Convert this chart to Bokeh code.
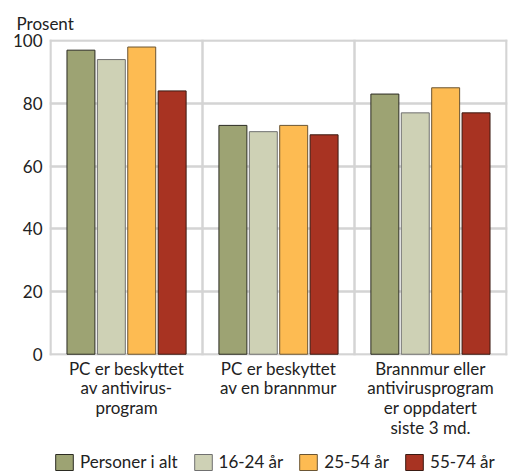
import numpy as np
from bokeh.plotting import figure
from bokeh.layouts import column
from bokeh.models import Range1d, FixedTicker, Legend, LegendItem
from bokeh.embed import file_html
from bokeh.resources import INLINE

categories = ["PC er beskyttet\nav antivirus-\nprogram",
              "PC er beskyttet\nav en brannmur",
              "Brannmur eller\nantivirusprogram\ner oppdatert\nsiste 3 md."]
series_names = ["Personer i alt", "16-24 år", "25-54 år", "55-74 år"]
personer_i_alt = [97, 73, 83]
aar_16_24 = [94, 71, 77]
aar_25_54 = [98, 73, 85]
aar_55_74 = [84, 70, 77]
y_ticks = [0, 20, 40, 60, 80, 100]

series_values = [personer_i_alt, aar_16_24, aar_25_54, aar_55_74]
fills = ["#9da373", "#ced1b5", "#fdbb52", "#a83322"]
lines = ["#2b2b22", "#707070", "#6b5533", "#3a1a12"]

FONT = "Lato"
TXT = "#222222"
FS = "17px"

p = figure(width=516, height=452, output_backend="svg", toolbar_location=None,
           x_range=Range1d(-0.007, 3.007), y_range=Range1d(-0.4, 100.4),
           min_border_left=49, min_border_right=9, min_border_top=39,
           min_border_bottom=97, outline_line_color=None,
           background_fill_color="white", border_fill_color="white")

p.title.text = "Prosent"
p.title.text_font = FONT
p.title.text_font_size = FS
p.title.text_font_style = "normal"
p.title.text_color = TXT
p.title.align = "left"
p.title.offset = -33
p.title.standoff = 12

n = len(series_names)
centers = np.arange(len(categories)) + 0.5
step = 0.2
bw = 0.184
for j in range(n):
    xs = centers + (j - (n - 1) / 2) * step
    p.vbar(x=xs, top=series_values[j], bottom=0, width=bw,
           fill_color=fills[j], line_color=lines[j], line_width=1)

# grid
p.xgrid.ticker = FixedTicker(ticks=[0, 1, 2, 3])
p.ygrid.ticker = FixedTicker(ticks=y_ticks)
for g in (p.xgrid, p.ygrid):
    g.grid_line_color = "#d4d4d4"
    g.grid_line_width = 2.5
p.grid.level = "underlay"

# axes
p.xaxis.ticker = FixedTicker(ticks=list(centers))
p.xaxis.major_label_overrides = {float(c): lab for c, lab in zip(centers, categories)}
p.yaxis.ticker = FixedTicker(ticks=y_ticks)
for ax in (p.xaxis, p.yaxis):
    ax.axis_line_color = None
    ax.major_tick_line_color = None
    ax.minor_tick_line_color = None
    ax.major_label_text_font = FONT
    ax.major_label_text_font_size = FS
    ax.major_label_text_color = TXT
p.yaxis.major_label_standoff = 1
p.xaxis.major_label_standoff = -4
p.xaxis.major_label_text_line_height = 0.95

# legend in a separate strip below the chart
lf = figure(width=516, height=20, output_backend="svg", toolbar_location=None,
            x_range=Range1d(0, 1), y_range=Range1d(0, 1),
            x_axis_type=None, y_axis_type=None, min_border=0,
            outline_line_color=None, background_fill_color="white",
            border_fill_color="white")
lf.grid.visible = False
items = []
for j in range(n):
    # placeholder renderer outside the visible range, used only for the legend swatch
    r = lf.vbar(x=[-5], top=[0], width=0.1, fill_color=fills[j],
                line_color=lines[j], line_width=1)
    items.append(LegendItem(label=series_names[j], renderers=[r]))

legend = Legend(items=items, location=(4, 0), orientation="horizontal",
                glyph_width=22, glyph_height=20, label_standoff=5, spacing=14,
                padding=0, margin=0, border_line_color=None,
                background_fill_alpha=0,
                label_text_font=FONT, label_text_font_size=FS,
                label_text_color=TXT)
lf.add_layout(legend)

layout = column(p, lf, spacing=0)
open("out.html", "w").write(file_html(layout, INLINE))
